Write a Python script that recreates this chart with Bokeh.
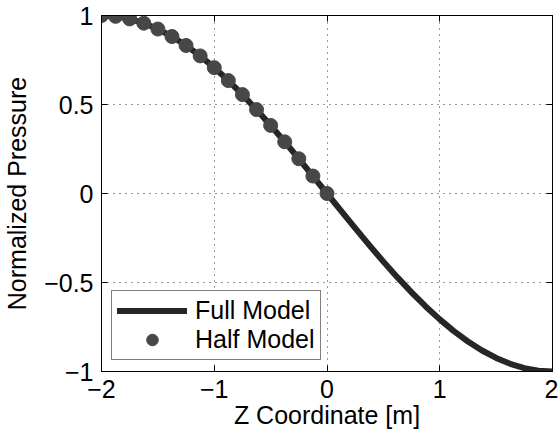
from bokeh.plotting import figure
from bokeh.models import (Range1d, FixedTicker, LinearAxis, Legend, LegendItem,
                          CustomJSTickFormatter, ColumnDataSource)
from bokeh.embed import file_html
from bokeh.resources import INLINE

# ---- data ----
full_z = [-2.0, -1.875, -1.75, -1.625, -1.5, -1.375, -1.25, -1.125, -1.0,
          -0.875, -0.75, -0.625, -0.5, -0.375, -0.25, -0.125, 0.0,
          0.125, 0.25, 0.375, 0.5, 0.625, 0.75, 0.875, 1.0,
          1.125, 1.25, 1.375, 1.5, 1.625, 1.75, 1.875, 2.0]
full_p = [1.0, 0.9952, 0.9808, 0.9569, 0.9239, 0.8819, 0.8315, 0.7730, 0.7071,
          0.6344, 0.5556, 0.4714, 0.3827, 0.2903, 0.1951, 0.0980, 0.0,
          -0.0980, -0.1951, -0.2903, -0.3827, -0.4714, -0.5556, -0.6344, -0.7071,
          -0.7730, -0.8315, -0.8819, -0.9239, -0.9569, -0.9808, -0.9952, -1.0]
half_z = [-2.0, -1.875, -1.75, -1.625, -1.5, -1.375, -1.25, -1.125, -1.0,
          -0.875, -0.75, -0.625, -0.5, -0.375, -0.25, -0.125, 0.0]
half_p = [1.0, 0.9952, 0.9808, 0.9569, 0.9239, 0.8819, 0.8315, 0.7730, 0.7071,
          0.6344, 0.5556, 0.4714, 0.3827, 0.2903, 0.1951, 0.0980, 0.0]
x_ticks = [-2, -1, 0, 1, 2]
y_ticks = [-1, -0.5, 0, 0.5, 1]
x_label = "Z Coordinate [m]"
y_label = "Normalized Pressure"
series_names = ["Full Model", "Half Model"]

FONT = "Liberation Sans"
FS = "25px"

p = figure(width=558, height=437, output_backend="svg", toolbar_location=None,
           x_range=Range1d(-2, 2), y_range=Range1d(-1, 1),
           min_border_left=100, min_border_right=6, min_border_top=15, min_border_bottom=66)
p.background_fill_color = "white"
p.border_fill_color = "white"
p.outline_line_color = "black"
p.outline_line_width = 1

fmt = CustomJSTickFormatter(code="""
    const s = Math.abs(tick).toString();
    return tick < 0 ? "\u2212" + s : s;
""")

for ax in (p.xaxis[0], p.yaxis[0]):
    ax.major_label_text_font = FONT
    ax.major_label_text_font_size = FS
    ax.major_label_text_color = "black"
    ax.axis_label_text_font = FONT
    ax.axis_label_text_font_size = FS
    ax.axis_label_text_font_style = "normal"
    ax.axis_label_text_color = "black"
    ax.major_tick_in = 6
    ax.major_tick_out = 0
    ax.minor_tick_line_color = None
    ax.axis_line_color = "black"
    ax.major_tick_line_color = "black"
    ax.formatter = fmt

p.xaxis[0].ticker = FixedTicker(ticks=x_ticks)
p.yaxis[0].ticker = FixedTicker(ticks=y_ticks)
p.xaxis[0].axis_label = x_label
p.yaxis[0].axis_label = y_label
p.xaxis[0].major_label_standoff = 8
p.xaxis[0].axis_label_standoff = 0
p.yaxis[0].major_label_standoff = 8
p.yaxis[0].axis_label_standoff = 10

# mirrored ticks on top and right (labels not drawn)
top = LinearAxis(ticker=FixedTicker(ticks=x_ticks), major_label_text_font_size="1px",
                 major_label_text_color=None,
                 major_tick_in=6, major_tick_out=0, minor_tick_line_color=None,
                 axis_line_color="black", major_label_standoff=0)
right = LinearAxis(ticker=FixedTicker(ticks=y_ticks), major_label_text_font_size="1px",
                   major_label_text_color=None,
                   major_tick_in=6, major_tick_out=0, minor_tick_line_color=None,
                   axis_line_color="black", major_label_standoff=0)
p.add_layout(top, "above")
p.add_layout(right, "right")

p.xgrid.ticker = FixedTicker(ticks=x_ticks)
p.ygrid.ticker = FixedTicker(ticks=y_ticks)
for g in (p.xgrid[0], p.ygrid[0]):
    g.grid_line_color = "black"
    g.grid_line_dash = "1 5"
    g.grid_line_width = 1
    g.grid_line_alpha = 0.8

full_src = ColumnDataSource(dict(z=full_z, p=full_p))
half_src = ColumnDataSource(dict(z=half_z, p=half_p))
r_line = p.line("z", "p", source=full_src, line_color="#262626", line_width=6,
                line_join="round", line_cap="round")
r_dots = p.scatter("z", "p", source=half_src, size=14, fill_color="#474747",
                   line_color="#474747", marker="circle")

legend = Legend(items=[LegendItem(label=series_names[0], renderers=[r_line]),
                       LegendItem(label=series_names[1], renderers=[r_dots])],
                location=(10, 11), orientation="vertical")
legend.label_text_font = FONT
legend.label_text_font_size = FS
legend.label_text_color = "black"
legend.border_line_color = "black"
legend.border_line_width = 1
legend.background_fill_color = "white"
legend.background_fill_alpha = 1
legend.padding = 5
legend.spacing = 0
legend.margin = 0
legend.glyph_width = 70
legend.glyph_height = 29
legend.label_height = 29
legend.label_standoff = 8
p.add_layout(legend, "center")

open("out.html", "w").write(file_html(p, INLINE))
